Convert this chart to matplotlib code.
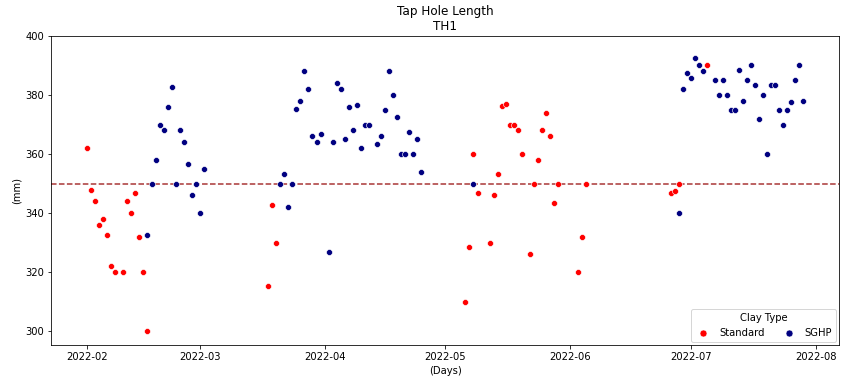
import pandas as pd
import matplotlib.pyplot as plt
import matplotlib.dates as mdates
from matplotlib.lines import Line2D

# readings taken off the chart, one per day
std_dates = ["2022-02-01", "2022-02-02", "2022-02-03", "2022-02-04", "2022-02-05",
             "2022-02-06", "2022-02-07", "2022-02-08", "2022-02-10", "2022-02-11",
             "2022-02-12", "2022-02-13", "2022-02-14", "2022-02-15", "2022-02-16",
             "2022-03-18", "2022-03-19", "2022-03-20",
             "2022-05-06", "2022-05-07", "2022-05-08", "2022-05-09", "2022-05-12",
             "2022-05-13", "2022-05-14", "2022-05-15", "2022-05-16", "2022-05-17",
             "2022-05-18", "2022-05-19", "2022-05-20", "2022-05-22", "2022-05-23",
             "2022-05-24", "2022-05-25", "2022-05-26", "2022-05-27", "2022-05-28",
             "2022-05-29", "2022-06-03", "2022-06-04", "2022-06-05",
             "2022-06-26", "2022-06-27", "2022-06-28", "2022-07-05"]
std_vals = [362, 347.7, 344, 336, 338, 332.6, 322, 320, 320, 344,
            340, 346.7, 332, 320, 300,
            315.2, 342.6, 330,
            310, 328.5, 360, 346.7, 330, 346, 353.3, 376.2, 376.8, 370,
            370, 368, 360, 326, 350, 358, 368, 374, 366, 343.3,
            350, 320, 332, 350,
            346.7, 347.6, 350, 390]

sghp_dates = ["2022-02-16", "2022-02-17", "2022-02-18", "2022-02-19", "2022-02-20",
              "2022-02-21", "2022-02-22", "2022-02-23", "2022-02-24", "2022-02-25",
              "2022-02-26", "2022-02-27", "2022-02-28", "2022-03-01", "2022-03-02",
              "2022-03-21", "2022-03-22", "2022-03-23", "2022-03-24", "2022-03-25",
              "2022-03-26", "2022-03-27", "2022-03-28", "2022-03-29", "2022-03-30",
              "2022-03-31", "2022-04-02", "2022-04-03", "2022-04-04", "2022-04-05",
              "2022-04-06", "2022-04-07", "2022-04-08", "2022-04-09", "2022-04-10",
              "2022-04-11", "2022-04-12", "2022-04-14", "2022-04-15", "2022-04-16",
              "2022-04-17", "2022-04-18", "2022-04-19", "2022-04-20", "2022-04-21",
              "2022-04-22", "2022-04-23", "2022-04-24", "2022-04-25",
              "2022-05-08",
              "2022-06-28", "2022-06-29", "2022-06-30", "2022-07-01", "2022-07-02",
              "2022-07-03", "2022-07-04", "2022-07-07", "2022-07-08", "2022-07-09",
              "2022-07-10", "2022-07-11", "2022-07-12", "2022-07-13", "2022-07-14",
              "2022-07-15", "2022-07-16", "2022-07-17", "2022-07-18", "2022-07-19",
              "2022-07-20", "2022-07-21", "2022-07-22", "2022-07-23", "2022-07-24",
              "2022-07-25", "2022-07-26", "2022-07-27", "2022-07-28", "2022-07-29"]
sghp_vals = [332.5, 350, 358, 370, 368, 376, 382.6, 350, 368, 364,
             356.7, 346, 350, 340, 355,
             350, 353.3, 342, 350, 375.2, 378, 388, 382, 366, 364,
             366.7, 326.7, 364, 384, 382, 365, 376, 368, 376.7, 362,
             370, 370, 363.3, 366, 375, 388, 380, 372.5, 360, 360,
             367.5, 360, 365, 354,
             350,
             340, 382, 387.6, 385.8, 392.5, 390, 388, 385, 380, 385,
             380, 375, 375, 388.5, 378, 385, 390, 383.5, 372, 380,
             360, 383.5, 383.5, 375, 370, 375, 377.5, 385, 390, 378]

clay_types = ["Standard", "SGHP"]
clay_colors = ["red", "navy"]
target = 350

fig, ax = plt.subplots(figsize=(841 / 72, 378 / 72), dpi=72)
ax.axhline(target, color="#a83232", linestyle="--", linewidth=1.5, zorder=1)
ax.scatter(pd.to_datetime(std_dates), std_vals, color=clay_colors[0], s=36,
           edgecolor="white", linewidth=0.6, zorder=2)
ax.scatter(pd.to_datetime(sghp_dates), sghp_vals, color=clay_colors[1], s=36,
           edgecolor="white", linewidth=0.6, zorder=2)

ax.set_ylim(295.3, 400)
ax.xaxis.set_major_locator(mdates.MonthLocator())
ax.xaxis.set_major_formatter(mdates.DateFormatter("%Y-%m"))
ax.set_title("Tap Hole Length\nTH1")
ax.set_xlabel("(Days)")
ax.set_ylabel("(mm)")

handles = [Line2D([], [], marker="o", linestyle="", color=c, markersize=7,
                  markeredgecolor="white", markeredgewidth=0.6)
           for c in clay_colors]
ax.legend(handles, clay_types, title="Clay Type", ncol=2, loc="lower right",
          handlelength=1.6, columnspacing=1.6, borderaxespad=0.3)

fig.subplots_adjust(left=0.061, right=0.998, top=0.905, bottom=0.087)
fig.savefig("out.png", dpi=72)
